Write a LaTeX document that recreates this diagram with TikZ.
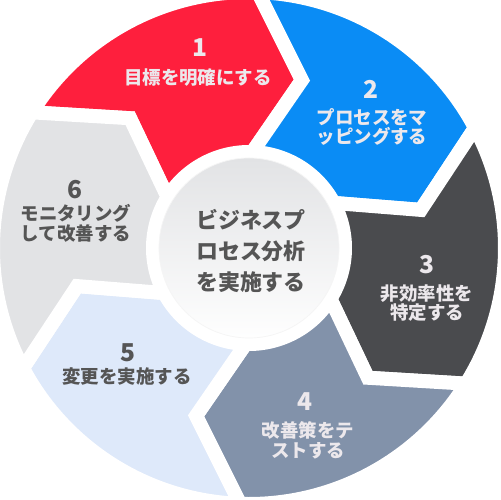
\documentclass[tikz,border=0pt]{standalone}
\usepackage{fontspec}
\setmainfont{Noto Sans CJK JP}
\definecolor{segred}{RGB}{254,31,61}
\definecolor{segblue}{RGB}{10,140,245}
\definecolor{segdark}{RGB}{74,75,78}
\definecolor{segslate}{RGB}{130,146,170}
\definecolor{segpale}{RGB}{222,233,250}
\definecolor{seggray}{RGB}{226,227,229}
\definecolor{txtlight}{RGB}{236,232,236}
\definecolor{txtdark}{RGB}{85,85,85}
\begin{document}
\begin{tikzpicture}[x=0.02cm, y=0.02cm,
		seg/.style={draw=white, line width=0.28cm, line join=miter},
		num/.style={font=\fontsize{14}{14}\selectfont\bfseries},
		lbl/.style={align=center, font=\fontsize{10.5}{11.3}\selectfont\bfseries}]
		\useasboundingbox (-249,-252) rectangle (251,248);
		\filldraw[seg, fill=segred] (148:256) arc[start angle=148, end angle=88, radius=256] -- (72.5:176) -- (88:96) arc[start angle=88, end angle=148, radius=96] -- (132.5:176) -- cycle;
		\filldraw[seg, fill=segblue] (88:256) arc[start angle=88, end angle=28, radius=256] -- (12.5:176) -- (28:96) arc[start angle=28, end angle=88, radius=96] -- (72.5:176) -- cycle;
		\filldraw[seg, fill=segdark] (28:256) arc[start angle=28, end angle=-32, radius=256] -- (-47.5:176) -- (-32:96) arc[start angle=-32, end angle=28, radius=96] -- (12.5:176) -- cycle;
		\filldraw[seg, fill=segslate] (-32:256) arc[start angle=-32, end angle=-92, radius=256] -- (-107.5:176) -- (-92:96) arc[start angle=-92, end angle=-32, radius=96] -- (-47.5:176) -- cycle;
		\filldraw[seg, fill=segpale] (-92:256) arc[start angle=-92, end angle=-152, radius=256] -- (-167.5:176) -- (-152:96) arc[start angle=-152, end angle=-92, radius=96] -- (-107.5:176) -- cycle;
		\filldraw[seg, fill=seggray] (-152:256) arc[start angle=-152, end angle=-212, radius=256] -- (-227.5:176) -- (-212:96) arc[start angle=-212, end angle=-152, radius=96] -- (-167.5:176) -- cycle;
		\shade[top color=seggray, bottom color=white!97!seggray, draw=white!92!gray, line width=0.4pt] (0,0) circle[radius=90];
		\node[num, txtlight] (n1) at (-49,200){1};
		\node[lbl, txtlight] (t1) at (-51,170){目標を明確にする};
		\node[num, txtlight] (n2) at (122,159){2};
		\node[lbl, txtlight] (t2) at (123,121){プロセスをマ\\ッピングする};
		\node[num, txtlight] (n3) at (178,-17){3};
		\node[lbl, txtlight] (t3) at (178,-55){非効率性を\\特定する};
		\node[num, txtlight] (n4) at (56,-154){4};
		\node[lbl, txtlight] (t4) at (59,-192){改善策をテ\\ストする};
		\node[num, txtdark] (n5) at (-121,-105){5};
		\node[lbl, txtdark] (t5) at (-122,-129){変更を実施する};
		\node[num, txtdark] (n6) at (-174,58){6};
		\node[lbl, txtdark] (t6) at (-173,25){モニタリング\\して改善する};
		\node[txtdark, align=center, font=\fontsize{12.5}{17.6}\selectfont\bfseries] (hub) at (2,-3){ビジネスプ\\ロセス分析\\を実施する};
	\end{tikzpicture}
\end{document}
